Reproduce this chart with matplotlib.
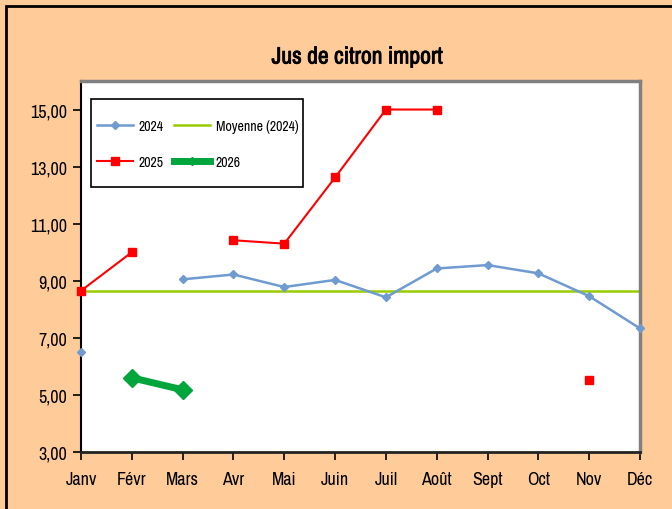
import numpy as np
import matplotlib
matplotlib.use('Agg')
import matplotlib.pyplot as plt
import matplotlib.patheffects as pe
from matplotlib.ticker import FuncFormatter
from matplotlib.patches import Rectangle

plt.rcParams['font.family'] = ['Archivo Narrow', 'Liberation Sans', 'DejaVu Sans']

months = ['Janv', 'Févr', 'Mars', 'Avr', 'Mai', 'Juin', 'Juil', 'Août', 'Sept', 'Oct', 'Nov', 'Déc']
nan = np.nan
y2024 = [6.50, nan, 9.05, 9.22, 8.78, 9.03, 8.42, 9.43, 9.55, 9.26, 8.46, 7.33]
moy2024 = 8.64
y2025 = [8.65, 10.0, nan, 10.42, 10.30, 12.62, 15.0, 15.0, nan, nan, 5.52, nan]
y2026 = [nan, 5.60, 5.18, nan, nan, nan, nan, nan, nan, nan, nan, nan]

bg = '#FFCC99'
W, H = 672, 510
fig = plt.figure(figsize=(6.72, 5.10), dpi=100, facecolor=bg)
ax = fig.add_axes([81/W, 1-453/H, 559/W, 371/H])
ax.set_facecolor('white')

x = np.arange(len(months))
ax.plot(x, y2024, color='#6F9BD1', lw=1.8, marker='D', ms=4.5, label='2024', clip_on=False, zorder=3)
ax.plot(x, [moy2024]*len(months), color='#99CC00', lw=1.8, label='Moyenne (2024)', zorder=2)
ax.plot(x, y2025, color='#FF0000', lw=1.5, marker='s', ms=5.5, label='2025', clip_on=False, zorder=4)
ax.plot(x, y2026, color='#00A53C', lw=5, marker='D', ms=9, label='2026', clip_on=False, zorder=4)

ax.set_xlim(0, 11)
ax.set_ylim(3, 16)
ax.set_xticks(x)
ax.set_xticklabels(months)
ax.set_yticks(np.arange(3, 16, 2))
ax.yaxis.set_major_formatter(FuncFormatter(lambda v, p: f"{v:.2f}".replace('.', ',')))
ax.tick_params(axis='both', direction='out', length=6, width=1.2, colors='black', labelsize=13)
ax.tick_params(axis='x', pad=8)
ax.tick_params(axis='y', pad=4)

for s in ['top', 'right']:
    ax.spines[s].set_color('#808080')
    ax.spines[s].set_linewidth(2.5)
ax.spines['left'].set_color('black')
ax.spines['left'].set_linewidth(1.5)
ax.spines['bottom'].set_color('#222222')
ax.spines['bottom'].set_linewidth(2)

# legend box drawn separately so the padding matches
def ax_xy(px, py):
    return (px - 81) / 559, (453 - py) / 371

x0, y0 = ax_xy(91, 188)
x1, y1 = ax_xy(303, 100)
ax.add_patch(Rectangle((x0, y0), x1 - x0, y1 - y0, transform=ax.transAxes,
                       facecolor='white', edgecolor='black', lw=1.2, zorder=5))

h, l = ax.get_legend_handles_labels()
order = [0, 2, 1, 3]
leg = ax.legend([h[i] for i in order], [l[i] for i in order], ncol=2,
                loc='upper left', bbox_to_anchor=ax_xy(97, 120),
                borderaxespad=0, frameon=False, fontsize=10,
                labelspacing=1.6, handlelength=2.6, columnspacing=0.75,
                handletextpad=0.4, borderpad=0)
leg.set_zorder(6)
leg.legend_handles[3].set_markersize(4)
leg.legend_handles[2].set_markersize(7)

fig.text(357/W, 1-58/H, 'Jus de citron import', ha='center', va='center',
         fontsize=17, path_effects=[pe.withStroke(linewidth=0.6, foreground='black')])

fig.patches.append(Rectangle((6/W, -0.1), 1.2, 1.1-7/H, transform=fig.transFigure,
                             fill=False, edgecolor='black', lw=2, zorder=0))

fig.savefig('out.png', dpi=100, facecolor=bg)
